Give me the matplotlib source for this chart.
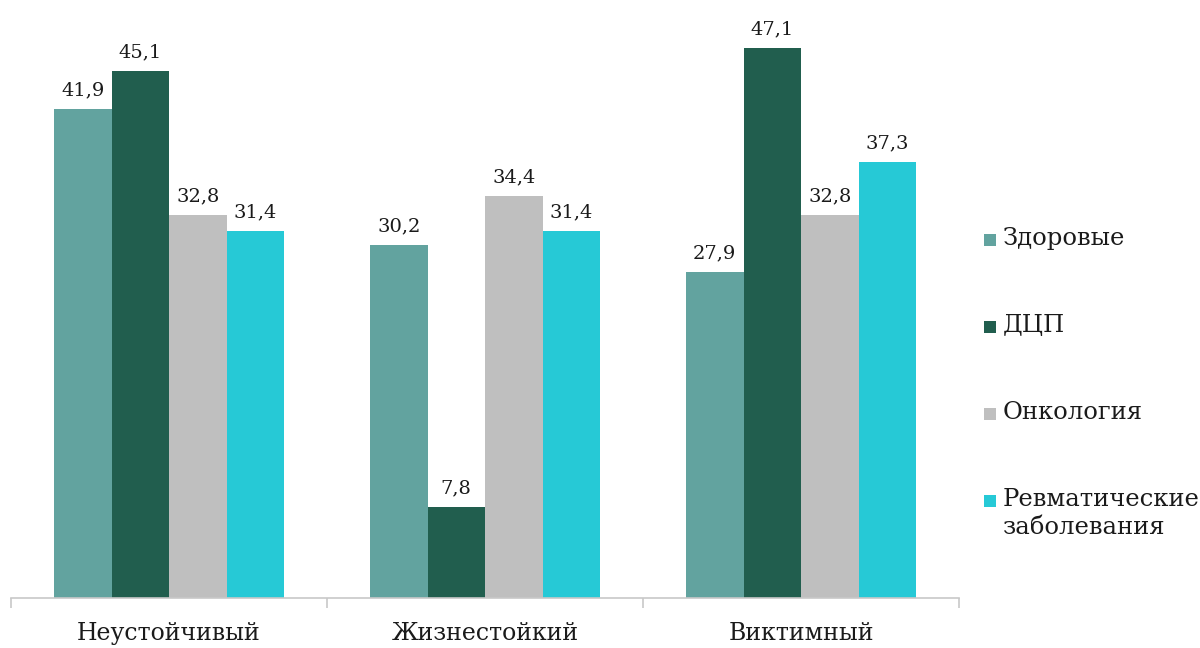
import matplotlib.pyplot as plt
from matplotlib.patches import Rectangle
import numpy as np

# groups and series values
categories = ["Неустойчивый", "Жизнестойкий", "Виктимный"]
series = ["Здоровые", "ДЦП", "Онкология", "Ревматические\nзаболевания"]
zdorovye = [41.9, 30.2, 27.9]
dcp = [45.1, 7.8, 47.1]
onko = [32.8, 34.4, 32.8]
revm = [31.4, 31.4, 37.3]
values = [zdorovye, dcp, onko, revm]
colors = ["#62a39f", "#215e4e", "#bfbfbf", "#26c9d6"]

plt.rcParams['font.family'] = ['DejaVu Serif']

fig = plt.figure(figsize=(12, 6.48), dpi=100)
ax = fig.add_axes([0.0092, 0.0772, 0.7900, 0.9228])

x = np.arange(len(categories))
w = 0.182
for i, (vals, c) in enumerate(zip(values, colors)):
    bars = ax.bar(x + (i - 1.5) * w, vals, width=w, color=c, linewidth=0)
    ax.bar_label(bars, labels=[("%.1f" % v).replace(".", ",") for v in vals],
                 padding=7, fontsize=14, color="#1a1a1a")

ax.set_xlim(-0.5, len(categories) - 0.5)
ax.set_ylim(0, 51.2)
for s in ["top", "right", "left"]:
    ax.spines[s].set_visible(False)
ax.spines["bottom"].set_color("#c8c8c8")
ax.spines["bottom"].set_linewidth(1.2)
ax.set_yticks([])
ax.set_xticks(x)
ax.set_xticklabels(categories, fontsize=17, color="#1a1a1a")
ax.tick_params(axis="x", which="major", length=0, pad=17)
ax.set_xticks(np.arange(-0.5, len(categories)), minor=True)
ax.tick_params(axis="x", which="minor", length=7, width=1.2, color="#c8c8c8", direction="out")

# legend on the right
for i, (name, c) in enumerate(zip(series, colors)):
    yc = 1 - (240 + i * 87) / 648
    fig.patches.append(Rectangle((984 / 1200, yc - 6 / 648), 12 / 1200, 12 / 648,
                                 transform=fig.transFigure, color=c, linewidth=0))
    fig.text(1003 / 1200, yc + 13 / 648, name, fontsize=17.5, color="#1a1a1a",
             va="top", ha="left", linespacing=1.3)

fig.savefig("out.png", dpi=100)
